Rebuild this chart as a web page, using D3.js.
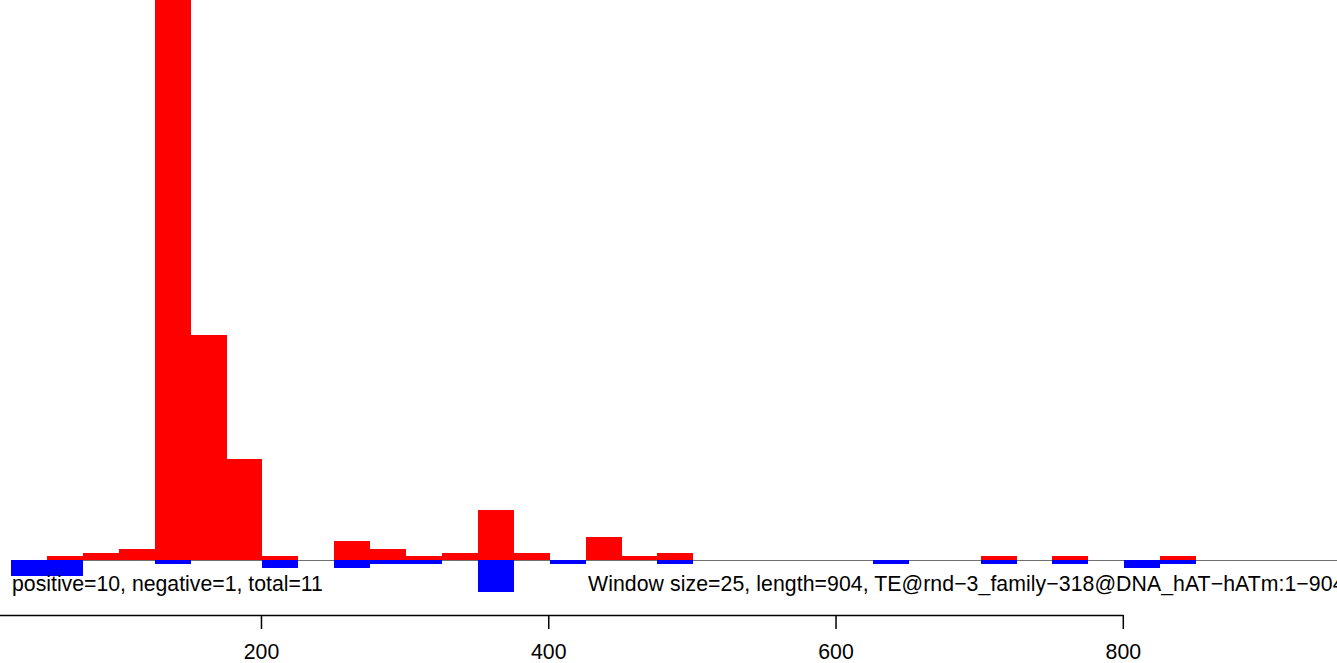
<!DOCTYPE html>
<html>
<head>
<meta charset="utf-8">
<script src="https://cdn.jsdelivr.net/npm/d3@7"></script>
<style>
  html, body { margin: 0; padding: 0; background: #ffffff; }
  svg { display: block; }
  text { font-family: "Liberation Sans", Arial, Helvetica, sans-serif; fill: #000; }
</style>
</head>
<body>
<div id="chart"></div>
<script>
// ---- data ----
const windowSize = 25;
const binStarts = [26, 51, 76, 101, 126, 151, 176, 201, 226, 251, 276, 301, 326, 351, 376, 401,
                   426, 451, 476, 501, 526, 551, 576, 601, 626, 651, 676, 701, 726, 751, 776, 801, 826];
const positiveValues = [0, 1, 1.75, 2.75, 150, 56.25, 25.25, 1, 0, 4.75, 2.75, 1, 1.75, 12.5, 1.75, 0,
                        5.75, 1, 1.75, 0, 0, 0, 0, 0, 0, 0, 0, 1, 0, 1, 0, 0, 1];
const negativeValues = [3.95, 3.95, 0, 0, 0.95, 0, 0, 1.95, 0, 1.95, 0.95, 0.95, 0, 7.95, 0, 0.95,
                        0, 0, 0.95, 0, 0, 0, 0, 0, 0.95, 0, 0, 0.95, 0, 0.95, 0, 1.95, 0.95];
const xTickValues = [200, 400, 600, 800];
const leftLabel = "positive=10, negative=1, total=11";
const rightLabel = "Window size=25, length=904, TE@rnd\u22123_family\u2212318@DNA_hAT\u2212hATm:1\u2212904";

// ---- layout ----
const W = 1337, H = 663;
const svg = d3.select("#chart").append("svg").attr("width", W).attr("height", H);

const x = d3.scaleLinear().domain([0, 800]).range([-26.3, 1122.8]);
const y = d3.scaleLinear().domain([0, 140]).range([560, 0]);
const baseY = y(0);

const bins = binStarts.map((s, i) => ({ start: s, end: s + windowSize, pos: positiveValues[i], neg: negativeValues[i] }));

// positive (red) bars
svg.append("g").selectAll("rect")
  .data(bins.filter(d => d.pos > 0))
  .join("rect")
  .attr("x", d => x(d.start))
  .attr("width", d => x(d.end) - x(d.start))
  .attr("y", d => Math.max(y(d.pos), -10))
  .attr("height", d => baseY - Math.max(y(d.pos), -10))
  .attr("fill", "#ff0000")
  .attr("shape-rendering", "crispEdges");

// baseline
svg.append("line")
  .attr("x1", 12).attr("x2", W)
  .attr("y1", baseY + 0.5).attr("y2", baseY + 0.5)
  .attr("stroke", "#707070").attr("stroke-width", 1);

// negative (blue) bars
svg.append("g").selectAll("rect")
  .data(bins.filter(d => d.neg > 0))
  .join("rect")
  .attr("x", d => x(d.start))
  .attr("width", d => x(d.end) - x(d.start))
  .attr("y", baseY)
  .attr("height", d => baseY - y(d.neg))
  .attr("fill", "#0000ff")
  .attr("shape-rendering", "crispEdges");

// labels under baseline
const lt = svg.append("text").attr("x", 12).attr("y", 591).text(leftLabel).style("font-size", "20px");
const targetW = 311;
const fs = 20 * targetW / lt.node().getComputedTextLength();
lt.style("font-size", fs + "px");
svg.append("text").attr("x", 588).attr("y", 591).text(rightLabel)
  .style("font-size", fs + "px").style("letter-spacing", "0.07px");

// x axis
const axisG = svg.append("g").attr("transform", "translate(0,615)");
const axis = d3.axisBottom(x).tickValues(xTickValues).tickSize(14).tickSizeOuter(0).tickPadding(15).tickFormat(d3.format("d"));
axisG.call(axis);
axisG.select(".domain").attr("stroke", "#000").attr("stroke-width", 1.5);
axisG.selectAll(".tick line").attr("stroke", "#000").attr("stroke-width", 1.5);
axisG.selectAll(".tick text")
  .style("font-size", fs + "px")
  .style("font-family", '"Liberation Sans", Arial, Helvetica, sans-serif')
  .attr("fill", "#000");
</script>
</body>
</html>
